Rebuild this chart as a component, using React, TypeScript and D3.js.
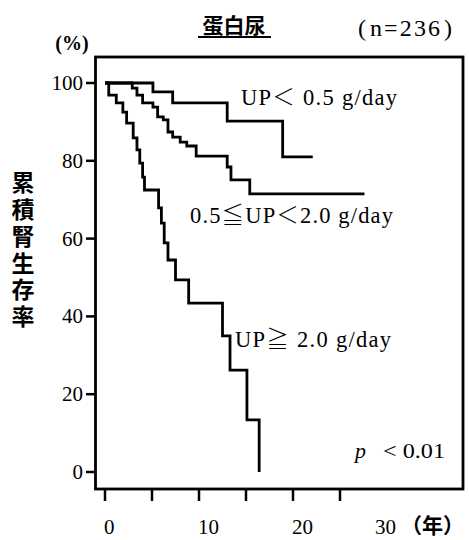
import React from "react";
import * as d3 from "d3";

const xTicks = [0, 5, 10, 15, 20, 25];
const xLabels = [0, 10, 20];
const yTicks = [0, 20, 40, 60, 80, 100];

const lowTimes = [0, 5.1, 7.2, 13.0, 18.9, 22.1];
const lowSurv = [100, 97.7, 94.9, 90.2, 81.0, 81.0];

const midTimes = [0, 2.9, 3.4, 4.0, 5.1, 5.6, 6.2, 6.7, 7.2, 8.0, 8.7, 9.7, 13.0, 13.4, 15.4, 27.6];
const midSurv = [100, 98.7, 96.9, 94.9, 93.8, 91.3, 90.5, 87.4, 86.1, 84.8, 83.8, 81.2, 78.4, 75.1, 71.5, 71.5];

const highTimes = [0, 0.4, 1.2, 1.9, 2.3, 3.0, 3.4, 3.7, 4.0, 4.2, 5.7, 6.0, 6.3, 6.7, 7.5, 8.9, 12.5, 13.3, 15.1, 16.4];
const highSurv = [100, 96.9, 94.9, 92.5, 89.7, 85.9, 82.8, 79.4, 75.8, 72.5, 67.9, 64.0, 58.9, 54.5, 49.4, 43.4, 35.0, 26.2, 13.4, 0];

const yTitle = "累積腎生存率";

const serif = "'Liberation Serif', 'Times New Roman', serif";
const cjk = "'Noto Sans CJK JP', sans-serif";

export default function App() {
  const x = d3.scaleLinear().domain([0, 25]).range([105, 340]);
  const y = d3.scaleLinear().domain([0, 100]).range([472, 83]);
  const line = d3
    .line<[number, number]>()
    .x((d) => x(d[0]))
    .y((d) => y(d[1]))
    .curve(d3.curveStepAfter);
  const mk = (t: number[], s: number[]) => line(t.map((v, i) => [v, s[i]] as [number, number])) || "";

  const frame = { left: 95.5, right: 463, top: 57, bottom: 489 };

  return (
    <svg width={469} height={540} style={{ position: "absolute", left: 0, top: 0, background: "#fff" }}>
      {/* title */}
      <text x={234} y={33} textAnchor="middle" fontFamily={cjk} fontWeight="bold" fontSize={21}>
        蛋白尿
      </text>
      <line x1={198} x2={271} y1={37} y2={37} stroke="#000" strokeWidth={2} />
      <text x={358} y={36} fontFamily={serif} fontSize={24}>
        (
      </text>
      <text x={370} y={36} fontFamily={serif} fontSize={24} textLength={70} lengthAdjust="spacing">
        n=236
      </text>
      <text x={444} y={36} fontFamily={serif} fontSize={24}>
        )
      </text>
      <text x={72} y={50} textAnchor="middle" fontFamily={serif} fontWeight="bold" fontSize={20}>
        (%)
      </text>

      {/* frame */}
      <rect
        x={frame.left}
        y={frame.top}
        width={frame.right - frame.left}
        height={frame.bottom - frame.top}
        fill="none"
        stroke="#000"
        strokeWidth={2.8}
      />

      {/* y ticks */}
      {yTicks.map((v) => (
        <g key={"y" + v}>
          <line x1={86} x2={frame.left} y1={y(v)} y2={y(v)} stroke="#000" strokeWidth={2.5} />
          <text x={83} y={y(v) + 7} textAnchor="end" fontFamily={serif} fontSize={21}>
            {v}
          </text>
        </g>
      ))}

      {/* x ticks */}
      {xTicks.map((v) => (
        <line key={"x" + v} x1={x(v)} x2={x(v)} y1={frame.bottom} y2={501} stroke="#000" strokeWidth={2.5} />
      ))}
      {xLabels.map((v) => (
        <text key={"xl" + v} x={x(v) - 1} y={534} textAnchor="start" fontFamily={serif} fontSize={21}>
          {v}
        </text>
      ))}
      <text x={x(30) - 12} y={534} textAnchor="start" fontFamily={serif} fontSize={21}>
        30
      </text>
      <text x={401} y={533} textAnchor="start" fontFamily={cjk} fontWeight="bold" fontSize={21}>
        （年）
      </text>

      {/* y title (vertical) */}
      <text
        x={23}
        y={171}
        fontFamily={cjk}
        fontWeight="bold"
        fontSize={23}
        letterSpacing={3.8}
        style={{ writingMode: "vertical-rl", textOrientation: "upright" } as any}
      >
        {yTitle}
      </text>

      {/* curves */}
      <path d={mk(lowTimes, lowSurv)} fill="none" stroke="#000" strokeWidth={2.8} />
      <path d={mk(midTimes, midSurv)} fill="none" stroke="#000" strokeWidth={2.8} />
      <path d={mk(highTimes, highSurv)} fill="none" stroke="#000" strokeWidth={2.8} />

      {/* annotations */}
      <text x={241} y={105} fontFamily={serif} fontSize={22.5} textLength={156} lengthAdjust="spacing">
        UP<tspan fontFamily={cjk} fontWeight="300">＜</tspan> 0.5 g/day
      </text>
      <text x={190} y={223} fontFamily={serif} fontSize={22.5} textLength={203} lengthAdjust="spacing">
        0.5<tspan fontFamily={cjk} fontWeight="300">≦</tspan>UP<tspan fontFamily={cjk} fontWeight="300">＜</tspan>2.0 g/day
      </text>
      <text x={235} y={347} fontFamily={serif} fontSize={22.5} textLength={156} lengthAdjust="spacing">
        UP<tspan fontFamily={cjk} fontWeight="300">≧</tspan> 2.0 g/day
      </text>
      <text x={355} y={458} fontFamily={serif} fontSize={22} fontStyle="italic">
        p
      </text>
      <text x={383} y={458} fontFamily={serif} fontSize={22} textLength={62} lengthAdjust="spacingAndGlyphs">
        &lt; 0.01
      </text>
    </svg>
  );
}
